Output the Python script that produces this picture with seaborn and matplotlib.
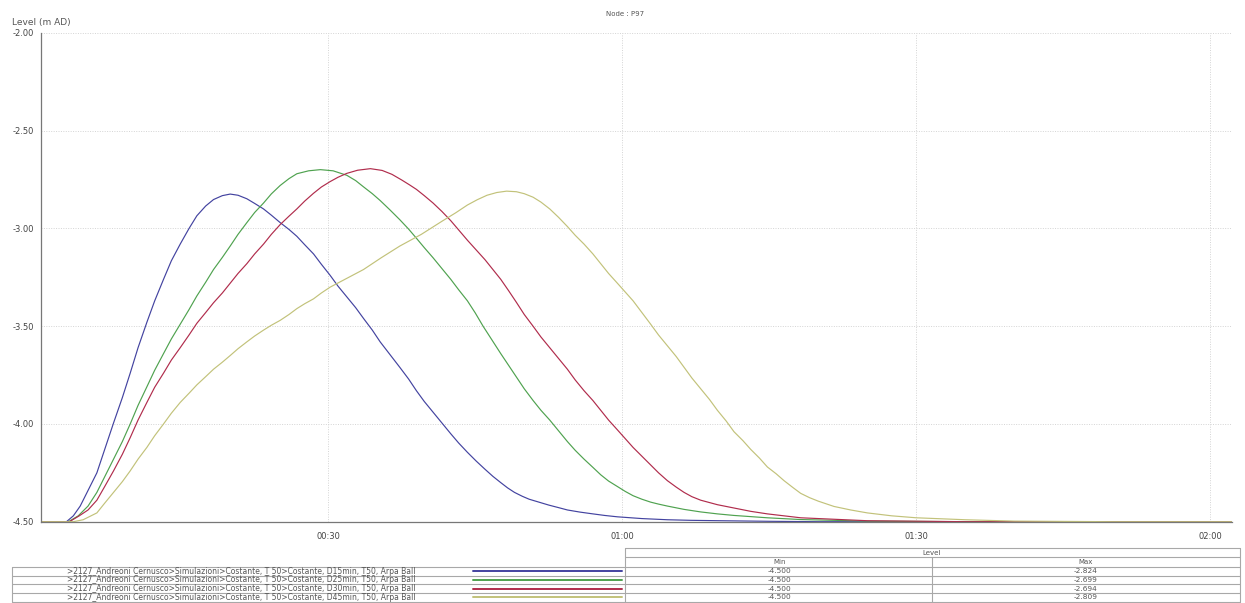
import numpy as np
import pandas as pd
import matplotlib
matplotlib.use("Agg")
import matplotlib.pyplot as plt
from matplotlib.ticker import FixedLocator, MultipleLocator, FuncFormatter
import seaborn as sns

# ---------------- data (time in minutes, level in m AD) ----------------
series_names = [
    ">2127_Andreoni Cernusco>Simulazioni>Costante, T 50>Costante, D15min, T50, Arpa Ball",
    ">2127_Andreoni Cernusco>Simulazioni>Costante, T 50>Costante, D25min, T50, Arpa Ball",
    ">2127_Andreoni Cernusco>Simulazioni>Costante, T 50>Costante, D30min, T50, Arpa Ball",
    ">2127_Andreoni Cernusco>Simulazioni>Costante, T 50>Costante, D45min, T50, Arpa Ball",
]
series_colors = ["#4343a0", "#4fa24f", "#b02c4c", "#c2c27a"]

t_d15 = [0, 3.3, 4.0, 4.7, 5.5, 6.4, 7.2, 8.1, 9.0, 9.8, 10.6, 11.5, 12.3, 13.2, 14.0,
         14.9, 15.8, 16.6, 17.5, 18.3, 19.2, 20.0, 20.8, 21.7, 22.5, 23.4, 24.2, 25.1,
         26.0, 26.8, 27.6, 28.5, 29.3, 30.2, 31.0, 31.9, 32.8, 33.6, 34.5, 35.3, 36.3,
         37.3, 38.2, 39.0, 39.8, 40.7, 41.6, 42.5, 43.3, 44.2, 45.1, 46.0, 46.8, 47.6,
         48.3, 49.0, 49.8, 50.5, 51.5, 52.5, 53.5, 54.4, 55.7, 57.0, 58.2, 59.5, 62.0,
         64.6, 67.0, 70, 75, 80, 122.5]
y_d15 = [-4.5, -4.5, -4.47, -4.42, -4.34, -4.25, -4.13, -3.995, -3.865, -3.74, -3.61,
         -3.48, -3.37, -3.26, -3.165, -3.08, -3.00, -2.935, -2.885, -2.852, -2.832,
         -2.824, -2.830, -2.848, -2.872, -2.90, -2.932, -2.97, -3.005, -3.04, -3.083,
         -3.13, -3.183, -3.24, -3.295, -3.35, -3.405, -3.46, -3.52, -3.58, -3.645,
         -3.71, -3.77, -3.83, -3.885, -3.94, -3.995, -4.05, -4.097, -4.145, -4.19,
         -4.232, -4.268, -4.30, -4.327, -4.35, -4.37, -4.385, -4.40, -4.415, -4.428,
         -4.44, -4.451, -4.46, -4.468, -4.475, -4.484, -4.49, -4.493, -4.495, -4.498,
         -4.5, -4.5]

t_d25 = [0, 3.5, 4.5, 5.5, 6.4, 7.2, 8.1, 9.0, 9.8, 10.6, 11.5, 12.3, 13.2, 14.0, 14.9,
         15.8, 16.6, 17.5, 18.3, 19.2, 20.0, 20.8, 21.7, 22.5, 23.4, 24.2, 25.1, 26.0,
         26.8, 28.0, 29.2, 30.5, 31.9, 32.8, 33.6, 34.5, 35.3, 36.3, 37.3, 38.2, 39.0,
         39.8, 40.7, 41.6, 42.5, 43.3, 44.2, 45.0, 45.8, 46.7, 47.6, 48.4, 49.2, 50.0,
         50.9, 51.7, 52.6, 53.5, 54.4, 55.2, 56.1, 57.0, 57.8, 58.6, 59.5, 60.3, 61.1,
         62.0, 62.9, 63.7, 64.6, 66.3, 68.0, 69.7, 71.4, 74.8, 78.2, 85, 95, 122.5]
y_d25 = [-4.5, -4.5, -4.47, -4.42, -4.35, -4.27, -4.18, -4.09, -4.0, -3.905, -3.81,
         -3.725, -3.64, -3.565, -3.49, -3.415, -3.345, -3.275, -3.21, -3.148, -3.09,
         -3.03, -2.97, -2.918, -2.87, -2.823, -2.78, -2.745, -2.72, -2.705, -2.699,
         -2.705, -2.728, -2.755, -2.787, -2.822, -2.857, -2.905, -2.955, -3.003, -3.05,
         -3.098, -3.15, -3.205, -3.26, -3.313, -3.37, -3.432, -3.50, -3.57, -3.64,
         -3.70, -3.76, -3.82, -3.88, -3.93, -3.98, -4.035, -4.09, -4.135, -4.18,
         -4.222, -4.26, -4.292, -4.32, -4.345, -4.367, -4.385, -4.40, -4.41, -4.42,
         -4.437, -4.45, -4.46, -4.468, -4.48, -4.489, -4.497, -4.5, -4.5]

t_d30 = [0, 3.6, 4.6, 5.5, 6.4, 7.2, 8.1, 9.0, 9.8, 10.6, 11.5, 12.3, 13.2, 14.0, 14.9,
         15.8, 16.6, 17.5, 18.3, 19.2, 20.0, 20.8, 21.7, 22.5, 23.4, 24.2, 25.1, 26.0,
         26.8, 27.6, 28.5, 29.3, 30.2, 31.0, 31.9, 33.0, 34.3, 35.5, 36.5, 37.5, 38.3,
         39.0, 39.8, 40.7, 41.6, 42.5, 43.3, 44.2, 45.1, 46.0, 46.8, 47.6, 48.4, 49.2,
         50.0, 50.9, 51.7, 52.6, 53.5, 54.4, 55.2, 56.1, 57.0, 57.8, 58.6, 59.5, 60.3,
         61.1, 62.0, 62.9, 63.7, 64.6, 65.5, 66.3, 67.1, 68.0, 69.7, 71.4, 73.1, 74.8,
         78.2, 85, 95, 122.5]
y_d30 = [-4.5, -4.5, -4.47, -4.44, -4.39, -4.32, -4.24, -4.155, -4.07, -3.98, -3.89,
         -3.812, -3.74, -3.673, -3.61, -3.545, -3.485, -3.43, -3.38, -3.33, -3.28,
         -3.23, -3.18, -3.13, -3.08, -3.03, -2.98, -2.937, -2.90, -2.86, -2.82, -2.788,
         -2.76, -2.738, -2.718, -2.702, -2.694, -2.703, -2.723, -2.752, -2.777, -2.80,
         -2.832, -2.87, -2.913, -2.96, -3.007, -3.06, -3.11, -3.16, -3.21, -3.26,
         -3.318, -3.378, -3.44, -3.50, -3.555, -3.61, -3.665, -3.72, -3.775, -3.83,
         -3.88, -3.93, -3.98, -4.03, -4.075, -4.12, -4.165, -4.21, -4.25, -4.29, -4.323,
         -4.35, -4.372, -4.39, -4.413, -4.43, -4.447, -4.46, -4.48, -4.495, -4.5, -4.5]

t_d45 = [0, 4.0, 5.0, 6.4, 7.2, 8.1, 9.0, 9.8, 10.6, 11.5, 12.3, 13.2, 14.0, 14.9, 15.8,
         16.6, 17.5, 18.3, 19.2, 20.0, 20.8, 21.7, 22.5, 23.4, 24.2, 25.1, 26.0, 26.8,
         27.6, 28.5, 29.3, 30.2, 31.9, 33.6, 35.4, 37.3, 38.4, 39.5, 40.6, 41.7, 43.0,
         44.2, 45.2, 46.2, 47.2, 48.2, 49.2, 50.0, 50.9, 51.7, 52.6, 53.5, 54.4, 55.2,
         56.1, 57.0, 57.8, 58.6, 59.5, 60.3, 61.1, 62.0, 62.9, 63.7, 64.6, 65.5, 66.3,
         67.1, 68.0, 68.9, 69.7, 70.6, 71.4, 72.3, 73.1, 74.0, 74.8, 75.7, 76.5, 77.4,
         78.2, 79.1, 80.0, 81.6, 83.3, 85, 87.5, 90, 95, 100, 110, 122.5]
y_d45 = [-4.5, -4.5, -4.49, -4.455, -4.405, -4.35, -4.295, -4.24, -4.18, -4.12, -4.06,
         -4.0, -3.945, -3.89, -3.843, -3.80, -3.758, -3.72, -3.684, -3.65, -3.615,
         -3.58, -3.55, -3.52, -3.495, -3.47, -3.44, -3.41, -3.385, -3.36, -3.33, -3.30,
         -3.255, -3.21, -3.15, -3.09, -3.06, -3.03, -2.995, -2.96, -2.92, -2.88, -2.853,
         -2.83, -2.816, -2.809, -2.812, -2.822, -2.84, -2.865, -2.90, -2.943, -2.99,
         -3.035, -3.08, -3.13, -3.18, -3.23, -3.28, -3.325, -3.37, -3.43, -3.49, -3.545,
         -3.60, -3.655, -3.71, -3.765, -3.82, -3.875, -3.93, -3.985, -4.04, -4.085,
         -4.13, -4.175, -4.22, -4.255, -4.29, -4.325, -4.355, -4.377, -4.395, -4.422,
         -4.44, -4.455, -4.47, -4.48, -4.49, -4.497, -4.5, -4.5]

table_min = ["-4.500", "-4.500", "-4.500", "-4.500"]
table_max = ["-2.824", "-2.699", "-2.694", "-2.809"]

y_major = [-4.5, -4.0, -3.5, -3.0, -2.5, -2.0]
x_major = [30, 60, 90, 120]
x_labels = ["00:30", "01:00", "01:30", "02:00"]

# ---------------- build long table ----------------
times = [t_d15, t_d25, t_d30, t_d45]
levels = [y_d15, y_d25, y_d30, y_d45]
frames = []
for name, tt, yy in zip(series_names, times, levels):
    frames.append(pd.DataFrame({"time": tt, "level": yy, "series": name}))
df = pd.concat(frames, ignore_index=True)

# ---------------- figure ----------------
sns.set_style("white")
plt.rcParams["font.family"] = ["DejaVu Sans"]
W, H = 1245, 603
fig = plt.figure(figsize=(W / 100, H / 100), dpi=100)
fig.patch.set_facecolor("white")

ax_l, ax_r, ax_t, ax_b = 41, 1232, 33, 521.7
ax = fig.add_axes([ax_l / W, 1 - ax_b / H, (ax_r - ax_l) / W, (ax_b - ax_t) / H])

sns.lineplot(data=df, x="time", y="level", hue="series", palette=series_colors,
             hue_order=series_names, sort=False, estimator=None, legend=False,
             linewidth=0.85, ax=ax)

ax.set_xlim(0.7, 122.2)
ax.set_ylim(-4.5, -2.0)
ax.set_xlabel("")
ax.set_ylabel("")

ax.yaxis.set_major_locator(FixedLocator(y_major))
ax.yaxis.set_minor_locator(MultipleLocator(0.1))
ax.yaxis.set_major_formatter(FuncFormatter(lambda v, p: f"{v:.2f}"))
ax.xaxis.set_major_locator(FixedLocator(x_major))
ax.xaxis.set_minor_locator(MultipleLocator(10))
ax.set_xticklabels(x_labels)

ax.tick_params(axis="both", which="both", colors="#555555", labelcolor="#444444",
               labelsize=6)
ax.tick_params(axis="y", which="both", direction="out", length=3, width=0.7, pad=2)
ax.tick_params(axis="x", which="both", direction="inout", length=5, width=0.7, pad=5)

for s in ["top", "right"]:
    ax.spines[s].set_visible(False)
for s in ["left", "bottom"]:
    ax.spines[s].set_color("#777777")
    ax.spines[s].set_linewidth(0.9)

ax.grid(True, which="major", color="#d4d4d4", linestyle=(0, (1, 1.5)), linewidth=0.7)
ax.set_axisbelow(True)

# titles
fig.text(625 / W, 1 - 14 / H, "Node : P97", ha="center", va="center",
         fontsize=5, color="#555555")
fig.text(12 / W, 1 - 22 / H, "Level (m AD)", ha="left", va="center",
         fontsize=6.5, color="#555555")

# ---------------- table below ----------------
tab = fig.add_axes([0, 0, 1, 1], zorder=-1)
tab.set_xlim(0, W)
tab.set_ylim(H, 0)
tab.axis("off")
gc = "#a8a8a8"
row_lines = [566.7, 575.5, 584.2, 592.9, 601.6]
for yl in row_lines:
    tab.plot([12, 625], [yl, yl], color=gc, lw=0.8)
tab.plot([12, 12], [row_lines[0], row_lines[-1]], color=gc, lw=0.8)
tab.plot([625, 1240], [548.3, 548.3], color=gc, lw=0.8)
tab.plot([625, 1240], [556.9, 556.9], color=gc, lw=0.8)
for yl in row_lines:
    tab.plot([625, 1240], [yl, yl], color=gc, lw=0.8)
tab.plot([625, 625], [548.3, row_lines[-1]], color=gc, lw=0.8)
tab.plot([1240, 1240], [548.3, row_lines[-1]], color=gc, lw=0.8)
tab.plot([932, 932], [556.9, row_lines[-1]], color=gc, lw=0.8)

tab.text(932, 552.6, "Level", ha="center", va="center", fontsize=5, color="#555555")
tab.text(780, 561.8, "Min", ha="center", va="center", fontsize=5, color="#555555")
tab.text(1086, 561.8, "Max", ha="center", va="center", fontsize=5, color="#555555")

for i, (name, col) in enumerate(zip(series_names, series_colors)):
    yc = (row_lines[i] + row_lines[i + 1]) / 2
    tab.text(241, yc, name, ha="center", va="center", fontsize=5.5, color="#555555")
    tab.plot([473, 622], [yc, yc], color=col, lw=1.4)
    tab.text(780, yc, table_min[i], ha="center", va="center", fontsize=5.3, color="#555555")
    tab.text(1086, yc, table_max[i], ha="center", va="center", fontsize=5.3, color="#555555")

fig.savefig("out.png", dpi=100, facecolor="white")
